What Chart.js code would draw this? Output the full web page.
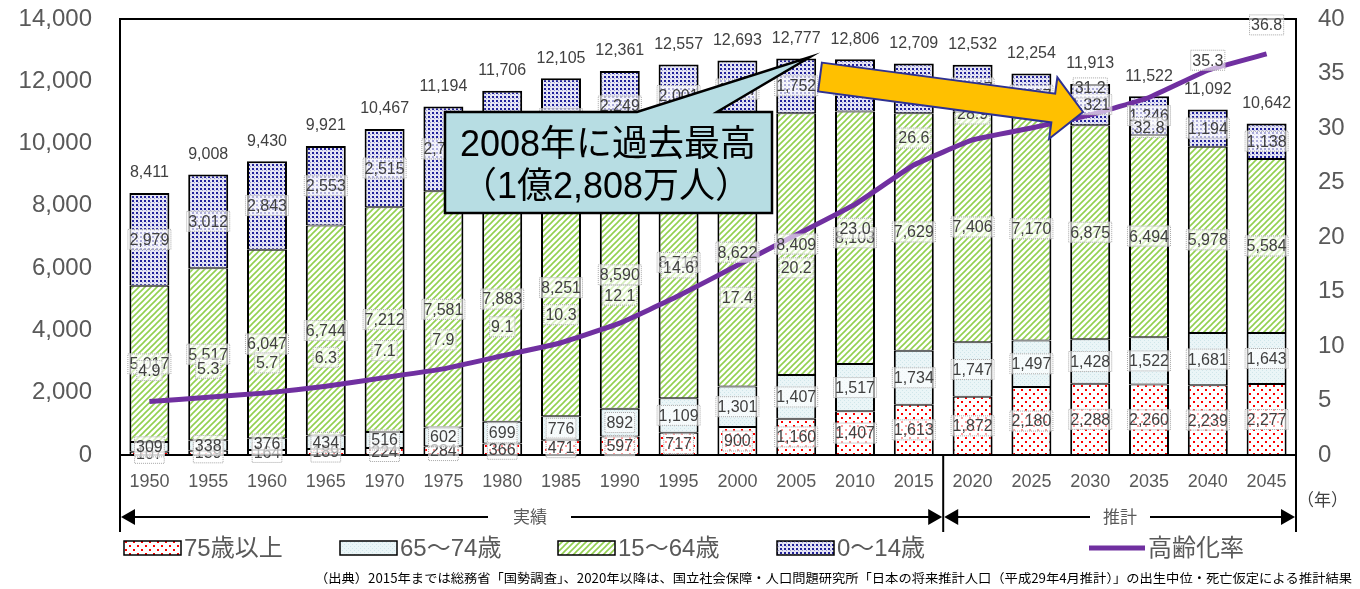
<!DOCTYPE html>
<html>
<head>
<meta charset="utf-8">
<script src="https://cdn.jsdelivr.net/npm/chart.js@4.4.1/dist/chart.umd.min.js"></script>
<style>
  body { margin: 0; background: #fff; }
  canvas { display: block; }
</style>
</head>
<body>
<canvas id="chart" width="1360" height="589"></canvas>
<script>
// data (万人, %)
var years = ['1950','1955','1960','1965','1970','1975','1980','1985','1990','1995',
             '2000','2005','2010','2015','2020','2025','2030','2035','2040','2045'];
var age75over = [107,139,164,189,224,284,366,471,597,717,900,1160,1407,1613,1872,2180,2288,2260,2239,2277];
var age65to74 = [309,338,376,434,516,602,699,776,892,1109,1301,1407,1517,1734,1747,1497,1428,1522,1681,1643];
var age15to64 = [5017,5517,6047,6744,7212,7581,7883,8251,8590,8716,8622,8409,8103,7629,7406,7170,6875,6494,5978,5584];
var age0to14 = [2979,3012,2843,2553,2515,2722,2751,2603,2249,2001,1847,1752,1680,1595,1507,1407,1321,1246,1194,1138];
var totals = [8411,9008,9430,9921,10467,11194,11706,12105,12361,12557,12693,12777,12806,12709,12532,12254,11913,11522,11092,10642];
var agingRate = [4.9,5.3,5.7,6.3,7.1,7.9,9.1,10.3,12.1,14.6,17.4,20.2,23.0,26.6,28.9,30.0,31.2,32.8,35.3,36.8];
var leftTicks = [0,2000,4000,6000,8000,10000,12000,14000];
var rightTicks = [0,5,10,15,20,25,30,35,40];

// label placement for the rate labels (px from the line)
var rateLabelDy = [-31,-29,-30,-29,-27,-29,-29,-28,-28,-28,32,33,24,-27,-26,-27,-27,30,-10,-29];

var FONT = '"Liberation Sans", Arial, "Noto Sans CJK JP", sans-serif';
var GREY = '#595959';

var ctx = document.getElementById('chart').getContext('2d');

// hatch patterns like the excel fills
function makePattern(size, bg, draw) {
    var c = document.createElement('canvas');
    c.width = size; c.height = size;
    var g = c.getContext('2d');
    g.fillStyle = bg;
    g.fillRect(0, 0, size, size);
    draw(g);
    return ctx.createPattern(c, 'repeat');
}
var redDots = makePattern(8, '#ffffff', function(g) {
    g.fillStyle = '#ff0000';
    g.fillRect(1, 1, 2, 2);
    g.fillRect(5, 5, 2, 2);
});
var cyanFill = makePattern(4, '#eaf5f7', function(g) {
    g.fillStyle = '#cfe6ea';
    g.fillRect(0, 0, 1, 1);
    g.fillRect(2, 2, 1, 1);
});
var greenHatch = makePattern(6, '#ffffff', function(g) {
    g.strokeStyle = '#92d050';
    g.lineWidth = 1.6;
    g.beginPath();
    g.moveTo(-1, 7); g.lineTo(7, -1);
    g.moveTo(-1, 1); g.lineTo(1, -1);
    g.moveTo(5, 7); g.lineTo(7, 5);
    g.stroke();
});
var blueDots = makePattern(4, '#e4e4f4', function(g) {
    g.fillStyle = '#22229a';
    g.fillRect(0, 0, 2, 2);
    g.fillStyle = '#9c9cd4';
    g.fillRect(2, 2, 1, 1);
});

function labelBox(c, text, x, y) {
    c.font = '16px ' + FONT;
    var w = c.measureText(text).width + 4;
    var h = 21;
    c.fillStyle = 'rgba(255,255,255,0.62)';
    c.fillRect(x - w / 2, y - h / 2, w, h);
    c.save();
    c.setLineDash([1, 1]);
    c.strokeStyle = '#a6a6a6';
    c.lineWidth = 1;
    c.strokeRect(x - w / 2 + 0.5, y - h / 2 + 0.5, w - 1, h - 1);
    c.restore();
    c.fillStyle = '#404040';
    c.textAlign = 'center';
    c.textBaseline = 'middle';
    c.fillText(text, x, y + 1);
}

var labelsPlugin = {
    id: 'labels',
    beforeDatasetsDraw: function(chart) {
        var c = chart.ctx, a = chart.chartArea;
        c.save();
        c.strokeStyle = '#000';
        c.lineWidth = 2;
        c.beginPath();
        c.moveTo(a.left, 532); c.lineTo(a.left, a.top); c.lineTo(a.right, a.top); c.lineTo(a.right, 532);
        c.stroke();
        c.restore();
    },
    afterDatasetsDraw: function(chart) {
        var c = chart.ctx, a = chart.chartArea;
        c.save();
        // axis baseline
        c.strokeStyle = '#000';
        c.lineWidth = 2;
        c.beginPath();
        c.moveTo(a.left, a.bottom); c.lineTo(a.right, a.bottom);
        c.stroke();
        // segment labels
        for (var d = 0; d < 4; d++) {
            var meta = chart.getDatasetMeta(d);
            var vals = chart.data.datasets[d].data;
            meta.data.forEach(function(el, i) {
                labelBox(c, vals[i].toLocaleString('en-US'), el.x, (el.y + el.base) / 2);
            });
        }
        // rate labels
        var lm = chart.getDatasetMeta(4);
        lm.data.forEach(function(pt, i) {
            labelBox(c, agingRate[i].toFixed(1), pt.x, pt.y + rateLabelDy[i]);
        });
        // totals
        var top = chart.getDatasetMeta(3);
        c.font = '16px ' + FONT;
        c.fillStyle = '#404040';
        c.textAlign = 'center';
        c.textBaseline = 'middle';
        top.data.forEach(function(el, i) {
            c.fillText(totals[i].toLocaleString('en-US'), el.x, el.y - 20);
        });
        c.restore();
    },
    afterDraw: function(chart) {
        var c = chart.ctx, a = chart.chartArea;
        var xs = chart.scales.x;
        var sep = (xs.getPixelForValue(13) + xs.getPixelForValue(14)) / 2;
        c.save();

        // callout
        c.beginPath();
        c.moveTo(445, 112); c.lineTo(637, 112); c.lineTo(810, 57); c.lineTo(717, 112);
        c.lineTo(772, 112); c.lineTo(772, 213); c.lineTo(445, 213); c.closePath();
        c.fillStyle = '#b7dde3';
        c.fill();
        c.strokeStyle = '#000';
        c.lineWidth = 2.5;
        c.lineJoin = 'miter';
        c.stroke();
        c.fillStyle = '#000';
        c.textAlign = 'center';
        c.textBaseline = 'middle';
        c.font = '36px ' + FONT;
        c.fillText('2008年に過去最高', 608, 146);
        c.fillText('（1億2,808万人）', 606, 188);

        // orange arrow
        var tx = 820, ty = 77, hx = 1083, hy = 112;
        var dx = hx - tx, dy = hy - ty, len = Math.sqrt(dx * dx + dy * dy);
        var ux = dx / len, uy = dy / len, nx = -uy, ny = ux;
        var bw = 14.5, hw = 31, hl = 30;
        function P(along, across) { return [tx + ux * along + nx * across, ty + uy * along + ny * across]; }
        var pts = [P(0, -bw), P(len - hl, -bw), P(len - hl, -hw), P(len, 0), P(len - hl, hw), P(len - hl, bw), P(0, bw)];
        c.beginPath();
        pts.forEach(function(p, i) { if (i) c.lineTo(p[0], p[1]); else c.moveTo(p[0], p[1]); });
        c.closePath();
        c.fillStyle = '#ffc000';
        c.fill();
        c.strokeStyle = '#2e3192';
        c.lineWidth = 2;
        c.stroke();

        // period lines under axis
        c.strokeStyle = '#000';
        c.lineWidth = 2;
        c.beginPath();
        c.moveTo(sep, a.bottom); c.lineTo(sep, 532);
        c.stroke();
        function hArrow(x1, x2, gap1, gap2, label, lx) {
            var y = 517;
            c.lineWidth = 2;
            c.beginPath();
            c.moveTo(x1 + 12, y); c.lineTo(gap1, y);
            c.moveTo(gap2, y); c.lineTo(x2 - 12, y);
            c.stroke();
            c.beginPath();
            c.moveTo(x1 + 1, y); c.lineTo(x1 + 15, y - 8); c.lineTo(x1 + 15, y + 8); c.closePath();
            c.moveTo(x2 - 1, y); c.lineTo(x2 - 15, y - 8); c.lineTo(x2 - 15, y + 8); c.closePath();
            c.fillStyle = '#000';
            c.fill();
            c.fillStyle = GREY;
            c.font = '17px ' + FONT;
            c.textAlign = 'center';
            c.fillText(label, lx, y + 1);
        }
        hArrow(a.left, sep, 488, 571, '実績', 530);
        hArrow(sep, a.right, 1090, 1150, '推計', 1120);
        c.fillStyle = '#404040';
        c.font = '17px ' + FONT;
        c.textAlign = 'left';
        c.fillText('（年）', 1297, 501);

        // legend
        var items = [
            [redDots, '75歳以上', 124],
            [cyanFill, '65～74歳', 340],
            [greenHatch, '15～64歳', 558],
            [blueDots, '0～14歳', 777]
        ];
        c.font = '24px ' + FONT;
        c.textBaseline = 'middle';
        items.forEach(function(it) {
            c.fillStyle = it[0];
            c.fillRect(it[2], 541, 57, 14);
            c.strokeStyle = '#000';
            c.lineWidth = 1.5;
            c.strokeRect(it[2], 541, 57, 14);
            c.fillStyle = GREY;
            c.fillText(it[1], it[2] + 60, 549);
        });
        c.strokeStyle = '#7030a0';
        c.lineWidth = 5;
        c.beginPath();
        c.moveTo(1089, 548); c.lineTo(1145, 548);
        c.stroke();
        c.fillStyle = GREY;
        c.fillText('高齢化率', 1148, 549);

        // source, squeezed into the same span as the original
        var src = '（出典）2015年までは総務省「国勢調査」、2020年以降は、国立社会保障・人口問題研究所「日本の将来推計人口（平成29年4月推計）」の出生中位・死亡仮定による推計結果';
        c.fillStyle = '#000';
        c.font = '12.5px "Noto Sans CJK JP", sans-serif';
        c.textAlign = 'left';
        var sw = c.measureText(src).width;
        var k = 1037 / sw;
        c.translate(315, 578);
        c.scale(k, 1);
        c.fillText(src, 0, 0);
        c.restore();
    }
};

var barBase = {
    type: 'bar',
    borderColor: '#000000',
    borderWidth: { top: 1, bottom: 1, left: 2, right: 2 },
    borderSkipped: false,
    barPercentage: 0.68,
    categoryPercentage: 1.0,
    yAxisID: 'y',
    order: 1
};

function noOverflow(s) {
    s.paddingTop = 0; s.paddingBottom = 0; s.paddingLeft = 0; s.paddingRight = 0;
}

var popChart = new Chart(ctx, {
    data: {
        labels: years,
        datasets: [
            Object.assign({}, barBase, { label: '75歳以上', data: age75over, backgroundColor: redDots, borderWidth: { top: 1, left: 2, right: 2, bottom: 0 } }),
            Object.assign({}, barBase, { label: '65～74歳', data: age65to74, backgroundColor: cyanFill }),
            Object.assign({}, barBase, { label: '15～64歳', data: age15to64, backgroundColor: greenHatch }),
            Object.assign({}, barBase, { label: '0～14歳', data: age0to14, backgroundColor: blueDots, borderWidth: { top: 2, bottom: 1, left: 2, right: 2 } }),
            {
                type: 'line',
                label: '高齢化率',
                data: agingRate,
                borderColor: '#7030a0',
                borderWidth: 5,
                pointRadius: 0,
                tension: 0.1,
                yAxisID: 'y2',
                order: 0
            }
        ]
    },
    options: {
        responsive: false,
        animation: false,
        layout: { padding: { top: 19, left: 0, right: 0, bottom: 0 } },
        plugins: { legend: { display: false }, tooltip: { enabled: false } },
        scales: {
            x: {
                stacked: true,
                grid: { display: false },
                border: { display: false },
                ticks: { color: GREY, font: { family: FONT, size: 18 }, padding: 8, maxRotation: 0, autoSkip: false },
                afterFit: function(s) { s.height = 134; noOverflow(s); }
            },
            y: {
                stacked: true,
                position: 'left',
                min: 0,
                max: 14000,
                grid: { display: false, drawTicks: false },
                border: { display: false },
                afterBuildTicks: function(s) { s.ticks = leftTicks.map(function(v) { return { value: v }; }); },
                ticks: {
                    color: GREY,
                    font: { family: FONT, size: 24 },
                    padding: 28,
                    callback: function(v) { return v.toLocaleString('en-US'); }
                },
                afterFit: function(s) { s.width = 120; noOverflow(s); }
            },
            y2: {
                position: 'right',
                min: 0,
                max: 40,
                grid: { display: false, drawTicks: false },
                border: { display: false },
                afterBuildTicks: function(s) { s.ticks = rightTicks.map(function(v) { return { value: v }; }); },
                ticks: { color: GREY, font: { family: FONT, size: 24 }, padding: 22 },
                afterFit: function(s) { s.width = 64; noOverflow(s); }
            }
        }
    },
    plugins: [labelsPlugin]
});
</script>
</body>
</html>
